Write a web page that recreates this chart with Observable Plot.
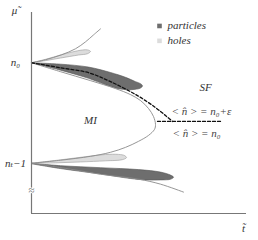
<!DOCTYPE html>
<html><head><meta charset="utf-8">
<script src="https://cdn.jsdelivr.net/npm/d3@7"></script>
<script src="https://cdn.jsdelivr.net/npm/@observablehq/plot@0.6"></script>
<style>body{margin:0;background:#fff} svg text{font-family:"Liberation Serif","DejaVu Serif",serif !important}</style>
</head><body><div id="chart"></div>
<script>
// MI lobe boundary (between n_t-1 and n0), t vs mu
const miBoundary = [[0,1.0],[0.29,0.911],[0.59,0.822],[0.84,0.743],[0.99,0.683],[1.09,0.624],[1.17,0.545],[1.22,0.465],[1.24,0.386],[1.23,0.337],[1.17,0.277],[1.07,0.218],[0.94,0.158],[0.79,0.109],[0.59,0.069],[0.29,0.030],[0,0]];
// lower boundary of the lobe above n0
const upperLobe = [[0,1.0],[0.14,1.030],[0.30,1.079],[0.44,1.139],[0.54,1.208],[0.62,1.277],[0.69,1.337]];
// upper boundary of the lobe below n_t-1
const lowerLobe = [[0,0],[0.39,-0.059],[0.69,-0.109],[1.07,-0.158],[1.29,-0.208],[1.52,-0.287]];
// contour <n> = n0 + eps
const contourEps = [[0,1.0],[0.29,0.950],[0.57,0.901],[0.79,0.812],[1.06,0.673],[1.24,0.554],[1.34,0.475],[1.41,0.416]];
const contourN0 = [[1.26,0.416],[1.91,0.416]];
// shaded regions
const holesTop = [[0,1],[0.14,1.034],[0.29,1.077],[0.41,1.108],[0.51,1.127],[0.56,1.128],[0.59,1.113],[0.56,1.090],[0.47,1.077],[0.29,1.047],[0.14,1.021],[0,1]];
const particlesTop = [[0,1],[0.29,0.986],[0.57,0.957],[0.79,0.903],[0.94,0.855],[1.04,0.812],[1.09,0.792],[1.11,0.770],[1.09,0.748],[1.00,0.732],[0.89,0.738],[0.74,0.782],[0.57,0.845],[0.29,0.926],[0,1]];
const holesBottom = [[0,0],[0.29,0.034],[0.54,0.065],[0.74,0.087],[0.87,0.088],[0.93,0.077],[0.95,0.056],[0.91,0.036],[0.74,0.024],[0.49,0.013],[0.24,0.004],[0,0]];
const particlesBottom = [[0,0],[0.29,-0.024],[0.69,-0.044],[1.07,-0.063],[1.29,-0.088],[1.39,-0.118],[1.42,-0.139],[1.39,-0.159],[1.29,-0.166],[1.14,-0.166],[0.99,-0.152],[0.69,-0.107],[0.29,-0.053],[0,-0.005]];
// labels
const yTickLabels = [{mu:1, label:"n₀"},{mu:0, label:"nₜ−1"}];
const legendItems = [{label:"particles", color:"#6e6e6e", mu:1.366},{label:"holes", color:"#dcdcdc", mu:1.218}];
const regionLabels = [{t:0.59, mu:0.426, label:"MI"},{t:1.74, mu:0.752, label:"SF"}];
const contourLabels = [{t:1.40, mu:0.515, label:"< n̂ > = n₀+ε"},{t:1.41, mu:0.297, label:"< n̂ > = n₀"}];
const axisLabels = [{t:-0.17, mu:1.52, label:"μ̃"},{t:2.12, mu:-0.645, label:"t̃"}];

const X = d => d[0], Y = d => d[1];
const serif = "Liberation Serif";
const txt = {fontFamily: serif, fontStyle: "italic", fontSize: 11, fill: "#333"};
const chart = Plot.plot({
  width: 258, height: 240,
  marginLeft: 31, marginRight: 12, marginTop: 12, marginBottom: 27,
  x: {domain: [0, 2.15], axis: null},
  y: {domain: [-0.5, 1.5], axis: null},
  style: {fontFamily: serif, background: "white"},
  marks: [
    Plot.line(particlesTop, {x: X, y: Y, fill: "#6e6e6e", stroke: "#555", strokeWidth: 0.6, curve: "catmull-rom"}),
    Plot.line(holesTop, {x: X, y: Y, fill: "#dcdcdc", stroke: "#999", strokeWidth: 0.6, curve: "catmull-rom"}),
    Plot.line(particlesBottom, {x: X, y: Y, fill: "#6e6e6e", stroke: "#555", strokeWidth: 0.6, curve: "catmull-rom"}),
    Plot.line(holesBottom, {x: X, y: Y, fill: "#dcdcdc", stroke: "#999", strokeWidth: 0.6, curve: "catmull-rom"}),
    Plot.line(miBoundary, {x: X, y: Y, stroke: "#8a8a8a", strokeWidth: 0.9, curve: "catmull-rom"}),
    Plot.line(upperLobe, {x: X, y: Y, stroke: "#8a8a8a", strokeWidth: 0.9, curve: "catmull-rom"}),
    Plot.line(lowerLobe, {x: X, y: Y, stroke: "#8a8a8a", strokeWidth: 0.9, curve: "catmull-rom"}),
    Plot.line(contourEps, {x: X, y: Y, stroke: "#111", strokeWidth: 1.3, strokeDasharray: "3,2", curve: "catmull-rom"}),
    Plot.line(contourN0, {x: X, y: Y, stroke: "#111", strokeWidth: 1.3, strokeDasharray: "3,2"}),
    Plot.ruleX([0], {stroke: "#777", strokeWidth: 1.2}),
    Plot.ruleY([-0.5], {stroke: "#777", strokeWidth: 1.2}),
    Plot.text(["≈"], {x: 0, y: -0.267, fill: "#666", stroke: "white", strokeWidth: 2, fontSize: 11, fontFamily: serif}),
    Plot.text(yTickLabels, {...txt, x: -0.16, y: "mu", text: "label"}),
    Plot.text(axisLabels, {...txt, x: "t", y: "mu", text: "label"}),
    Plot.dot(legendItems, {x: 1.28, y: "mu", symbol: "square", r: 2.6, fill: "color", stroke: "none"}),
    Plot.text(legendItems, {...txt, x: 1.36, y: "mu", text: "label", textAnchor: "start"}),
    Plot.text(regionLabels, {...txt, x: "t", y: "mu", text: "label"}),
    Plot.text(contourLabels, {...txt, x: "t", y: "mu", text: "label", textAnchor: "start", fill: "#444"})
  ]
});
document.getElementById("chart").append(chart);
</script>
</body></html>
